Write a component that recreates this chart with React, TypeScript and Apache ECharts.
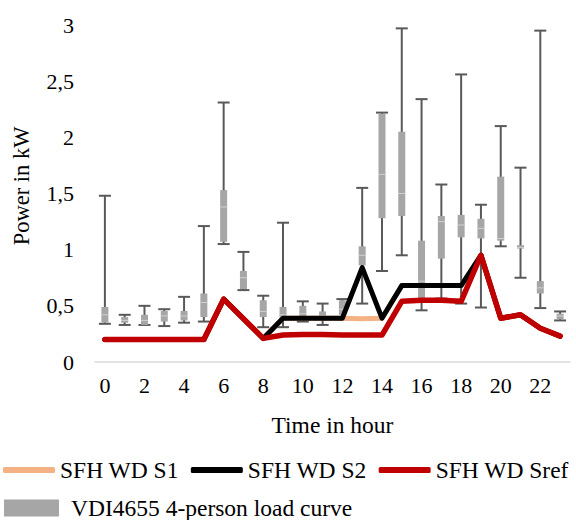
import React, { useEffect, useRef } from "react";
import * as echarts from "echarts";

const hours = ["0","1","2","3","4","5","6","7","8","9","10","11","12","13","14","15","16","17","18","19","20","21","22","23"];

// VDI4655 box values per hour
const boxMin = [0.34, 0.33, 0.33, 0.32, 0.35, 0.36, 1.05, 0.64, 0.31, 0.31, 0.36, 0.33, 0.38, 0.52, 0.81, 0.95, 0.46, 0.565, 0.52, 0.485, 1.03, 0.75, 0.48, 0.37];
const boxQ1 = [0.35, 0.35, 0.33, 0.36, 0.37, 0.40, 1.07, 0.65, 0.40, 0.37, 0.39, 0.37, 0.42, 0.86, 1.28, 1.30, 0.55, 0.92, 1.11, 1.10, 1.08, 1.01, 0.61, 0.38];
const boxMedian = [0.42, 0.37, 0.37, 0.41, 0.41, 0.53, 1.38, 0.75, 0.45, 0.42, 0.43, 0.41, 0.47, 0.95, 1.67, 1.50, 0.72, 1.25, 1.22, 1.19, 1.10, 1.02, 0.66, 0.41];
const boxQ3 = [0.49, 0.40, 0.42, 0.455, 0.455, 0.61, 1.53, 0.81, 0.55, 0.49, 0.50, 0.45, 0.55, 1.03, 2.21, 2.05, 1.08, 1.30, 1.31, 1.275, 1.65, 1.04, 0.72, 0.43];
const boxMax = [1.48, 0.42, 0.50, 0.47, 0.58, 1.21, 2.31, 0.98, 0.59, 1.24, 0.54, 0.52, 0.56, 1.55, 2.22, 2.97, 2.34, 1.58, 2.56, 1.40, 2.10, 1.73, 2.95, 0.45];

const s1 = [0.20, 0.20, 0.20, 0.20, 0.20, 0.20, 0.56, 0.385, 0.21, 0.39, 0.39, 0.39, 0.39, 0.385, 0.39, 0.68, 0.68, 0.68, 0.68, 0.95, 0.39, 0.42, 0.30, 0.23];
const s2 = [0.20, 0.20, 0.20, 0.20, 0.20, 0.20, 0.56, 0.385, 0.21, 0.39, 0.39, 0.39, 0.39, 0.84, 0.39, 0.68, 0.68, 0.68, 0.68, 0.95, 0.39, 0.42, 0.30, 0.23];
const sref = [0.20, 0.20, 0.20, 0.20, 0.20, 0.20, 0.56, 0.385, 0.21, 0.24, 0.245, 0.245, 0.24, 0.24, 0.24, 0.54, 0.55, 0.55, 0.54, 0.95, 0.39, 0.42, 0.30, 0.23];

const FONT = "Liberation Serif";

export default function App() {
  const ref = useRef<HTMLDivElement>(null);
  useEffect(() => {
    if (!ref.current) return;
    const chart = echarts.init(ref.current, null, { renderer: "svg" });
    const boxData = hours.map((_, i) => [i, boxMin[i], boxQ1[i], boxMedian[i], boxQ3[i], boxMax[i]]);
    const lineStyleBase = { width: 5, cap: "round", join: "round" };
    chart.setOption({
      animation: false,
      textStyle: { fontFamily: FONT },
      grid: { left: 95, right: 6, top: 25, bottom: 158, outerBoundsMode: "none" },
      xAxis: {
        type: "category",
        data: hours,
        boundaryGap: true,
        axisLine: { show: true, lineStyle: { color: "#d9d9d9", width: 1.5 } },
        axisTick: { show: false },
        axisLabel: { interval: 1, margin: 12, fontFamily: FONT, fontSize: 22, color: "#000" },
        splitLine: { show: false },
        name: "Time in hour",
        nameLocation: "middle",
        nameGap: 51,
        nameTextStyle: { fontFamily: FONT, fontSize: 23.5, color: "#000" },
      },
      yAxis: {
        type: "value",
        min: 0,
        max: 3,
        interval: 0.5,
        axisLine: { show: false },
        axisTick: { show: false },
        splitLine: { show: false },
        axisLabel: {
          margin: 21,
          fontFamily: FONT,
          fontSize: 22,
          color: "#000",
          formatter: (v: number) => String(v).replace(".", ","),
        },
      },
      graphic: [
        {
          type: "text",
          x: 21,
          y: 186,
          rotation: Math.PI / 2,
          style: {
            text: "Power in kW",
            fontFamily: FONT,
            fontSize: 22.5,
            fill: "#000",
            align: "center",
            verticalAlign: "middle",
          },
        },
      ],
      legend: [
        {
          left: 3,
          top: 458,
          padding: 0,
          itemWidth: 52,
          itemHeight: 6,
          itemGap: 12,
          icon: "roundRect",
          data: ["SFH WD S1", "SFH WD S2", "SFH WD Sref"],
          textStyle: { fontFamily: FONT, fontSize: 23.5, color: "#000" },
        },
        {
          left: 4,
          top: 496,
          padding: 0,
          itemWidth: 55,
          itemHeight: 17,
          icon: "rect",
          data: ["VDI4655 4-person load curve"],
          textStyle: { fontFamily: FONT, fontSize: 23.5, color: "#000", padding: [0, 0, 0, 7] },
        },
      ],
      series: [
        {
          name: "VDI4655 4-person load curve",
          type: "custom",
          itemStyle: { color: "#a6a6a6" },
          encode: { x: 0, y: [1, 2, 3, 4, 5] },
          data: boxData,
          renderItem: (params: any, api: any) => {
            const i = api.value(0);
            const top = api.coord([i, api.value(5)]);
            const bot = api.coord([i, api.value(1)]);
            const q1 = api.coord([i, api.value(2)]);
            const med = api.coord([i, api.value(3)]);
            const q3 = api.coord([i, api.value(4)]);
            const x = top[0];
            const ws = { stroke: "#595959", lineWidth: 2 };
            return {
              type: "group",
              children: [
                { type: "line", shape: { x1: x, y1: top[1], x2: x, y2: bot[1] }, style: ws },
                { type: "line", shape: { x1: x - 6, y1: top[1], x2: x + 6, y2: top[1] }, style: ws },
                { type: "line", shape: { x1: x - 6, y1: bot[1], x2: x + 6, y2: bot[1] }, style: ws },
                {
                  type: "rect",
                  shape: { x: x - 3.5, y: q3[1], width: 7, height: Math.max(1, q1[1] - q3[1]) },
                  style: { fill: "#a6a6a6" },
                },
                { type: "line", shape: { x1: x - 3.5, y1: med[1], x2: x + 3.5, y2: med[1] }, style: { stroke: "#d0d0d0", lineWidth: 1 } },
              ],
            };
          },
        },
        {
          name: "SFH WD S1",
          type: "line",
          data: s1,
          symbol: "none",
          itemStyle: { color: "#f4b183" },
          lineStyle: { ...lineStyleBase, color: "#f4b183" },
        },
        {
          name: "SFH WD S2",
          type: "line",
          data: s2,
          symbol: "none",
          itemStyle: { color: "#000000" },
          lineStyle: { ...lineStyleBase, color: "#000000" },
        },
        {
          name: "SFH WD Sref",
          type: "line",
          data: sref,
          symbol: "none",
          itemStyle: { color: "#c00000" },
          lineStyle: { ...lineStyleBase, width: 5.5, color: "#c00000" },
        },
      ],
    });
    return () => chart.dispose();
  }, []);
  return (
    <div
      ref={ref}
      style={{ position: "fixed", left: 0, top: 0, width: 576, height: 520, background: "#fff" }}
    />
  );
}
